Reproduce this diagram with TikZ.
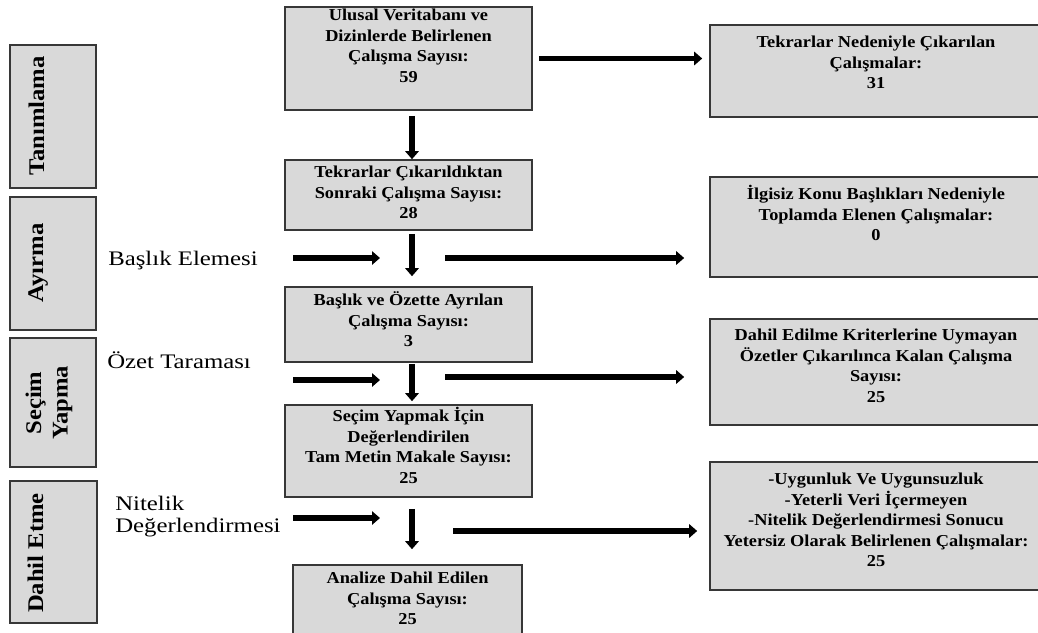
\documentclass[tikz,border=0pt]{standalone}
\usepackage{fontspec}
\setmainfont{Liberation Serif}[FakeStretch=1.1]
\newfontfamily\lblfont{Liberation Serif}[FakeStretch=1.2]
\usetikzlibrary{arrows.meta,calc,fit}
\definecolor{boxfill}{RGB}{217,217,217}
\definecolor{boxline}{RGB}{55,55,55}
\begin{document}
\begin{tikzpicture}[x=0.75pt,y=-0.75pt,
  box/.style={draw=boxline, fill=boxfill, line width=1.2pt, inner sep=0pt},
  txt/.style={align=center, font=\fontsize{12.5}{15.4}\selectfont\bfseries, inner sep=0pt, anchor=north},
  phase/.style={font=\fontsize{16.8}{20}\selectfont\bfseries, rotate=90, inner sep=0pt, align=center},
  lbl/.style={font=\lblfont\fontsize{15.5}{15}\selectfont, inner sep=0pt, align=left},
  arr/.style={line width=4pt, -{Triangle[length=6pt,width=10pt]}}]
\clip (0,0) rectangle (1038,632);
\fill[white] (0,0) rectangle (1038,632);

% phase boxes
\node[box, fit={(10,45) (96,188)}] (p1) {};
\node[box, fit={(10,197) (96,330)}] (p2) {};
\node[box, fit={(10,338) (96,467)}] (p3) {};
\node[box, fit={(10,481) (97,623)}] (p4) {};
\node[phase, anchor=base] (p1t) at (44,116) {Tanımlama};
\node[phase, anchor=base] (p2t) at (43,263) {Ayırma};
\node[phase] (p3t) at (49,403) {Seçim\\Yapma};
\node[phase, anchor=base] (p4t) at (43,553) {Dahil Etme};

% step labels
\node[lbl, anchor=base west] (l1) at (108,265) {Başlık Elemesi};
\node[lbl, anchor=base west] (l2) at (107,368) {Özet Taraması};
\node[lbl, anchor=north west] (l3) at (115,496) {\strut Nitelik\\Değerlendirmesi};

% central boxes
\node[box, fit={(285,7) (532,110)}] (b1) {};
\node[txt] (b1t) at (408.5,6) {\strut Ulusal Veritabanı ve\\Dizinlerde Belirlenen\\Çalışma Sayısı:\\59};
\node[box, fit={(285,160) (532,230)}] (b2) {};
\node[txt] (b2t) at (408.5,163) {\strut Tekrarlar Çıkarıldıktan\\Sonraki Çalışma Sayısı:\\28};
\node[box, fit={(285,287) (532,362)}] (b3) {};
\node[txt] (b3t) at (408.5,291) {\strut Başlık ve Özette Ayrılan\\Çalışma Sayısı:\\3};
\node[box, fit={(285,405) (532,497)}] (b4) {};
\node[txt] (b4t) at (408.5,407) {\strut Seçim Yapmak İçin\\Değerlendirilen\\Tam Metin Makale Sayısı:\\25};
\node[box, fit={(293,565) (522,640)}] (b5) {};
\node[txt] (b5t) at (407.5,569) {\strut Analize Dahil Edilen\\Çalışma Sayısı:\\25};

% right boxes
\node[box, fit={(710,25) (1042,117)}] (r1) {};
\node[txt] (r1t) at (876,33) {\strut Tekrarlar Nedeniyle Çıkarılan\\Çalışmalar:\\31};
\node[box, fit={(710,177) (1042,277)}] (r2) {};
\node[txt] (r2t) at (876,185) {\strut İlgisiz Konu Başlıkları Nedeniyle\\Toplamda Elenen Çalışmalar:\\0};
\node[box, fit={(710,319) (1042,425)}] (r3) {};
\node[txt] (r3t) at (876,326) {\strut Dahil Edilme Kriterlerine Uymayan\\Özetler Çıkarılınca Kalan Çalışma\\Sayısı:\\25};
\node[box, fit={(710,462) (1042,590)}] (r4) {};
\node[txt] (r4t) at (876,470) {\strut -Uygunluk Ve Uygunsuzluk\\-Yeterli Veri İçermeyen\\-Nitelik Değerlendirmesi Sonucu\\Yetersiz Olarak Belirlenen Çalışmalar:\\25};

% vertical arrows
\coordinate (vx) at (412,0);
\draw[arr] ($(b1.south -| vx)+(0,5)$) -- (b2.north -| vx);
\draw[arr] ($(b2.south -| vx)+(0,3)$) -- ($(b3.north -| vx)+(0,-10)$);
\draw[arr] ($(b3.south -| vx)+(0,1)$) -- ($(b4.north -| vx)+(0,-3)$);
\draw[arr] ($(b4.south -| vx)+(0,11)$) -- ($(b5.north -| vx)+(0,-15)$);

% top horizontal arrow
\draw[arr] ($(b1.east)+(6,0)$) -- ($(b1.east -| r1.west)+(-7,0)$);

% row arrows
\coordinate (a1s) at (293,258);
\coordinate (a1e) at (380,258);
\coordinate (c1s) at (445,258);
\draw[arr] (a1s) -- (a1e);
\draw[arr] (c1s) -- ($(c1s -| r2.west)+(-25,0)$);

\coordinate (a2s) at (293,380);
\coordinate (a2e) at (380,380);
\coordinate (c2s) at (445,377);
\draw[arr] (a2s) -- (a2e);
\draw[arr] (c2s) -- ($(c2s -| r3.west)+(-25,0)$);

\coordinate (a3s) at (293,518);
\coordinate (a3e) at (380,518);
\coordinate (c3s) at (453,531);
\draw[arr] (a3s) -- (a3e);
\draw[arr] (c3s) -- ($(c3s -| r4.west)+(-12,0)$);
\end{tikzpicture}
\end{document}
